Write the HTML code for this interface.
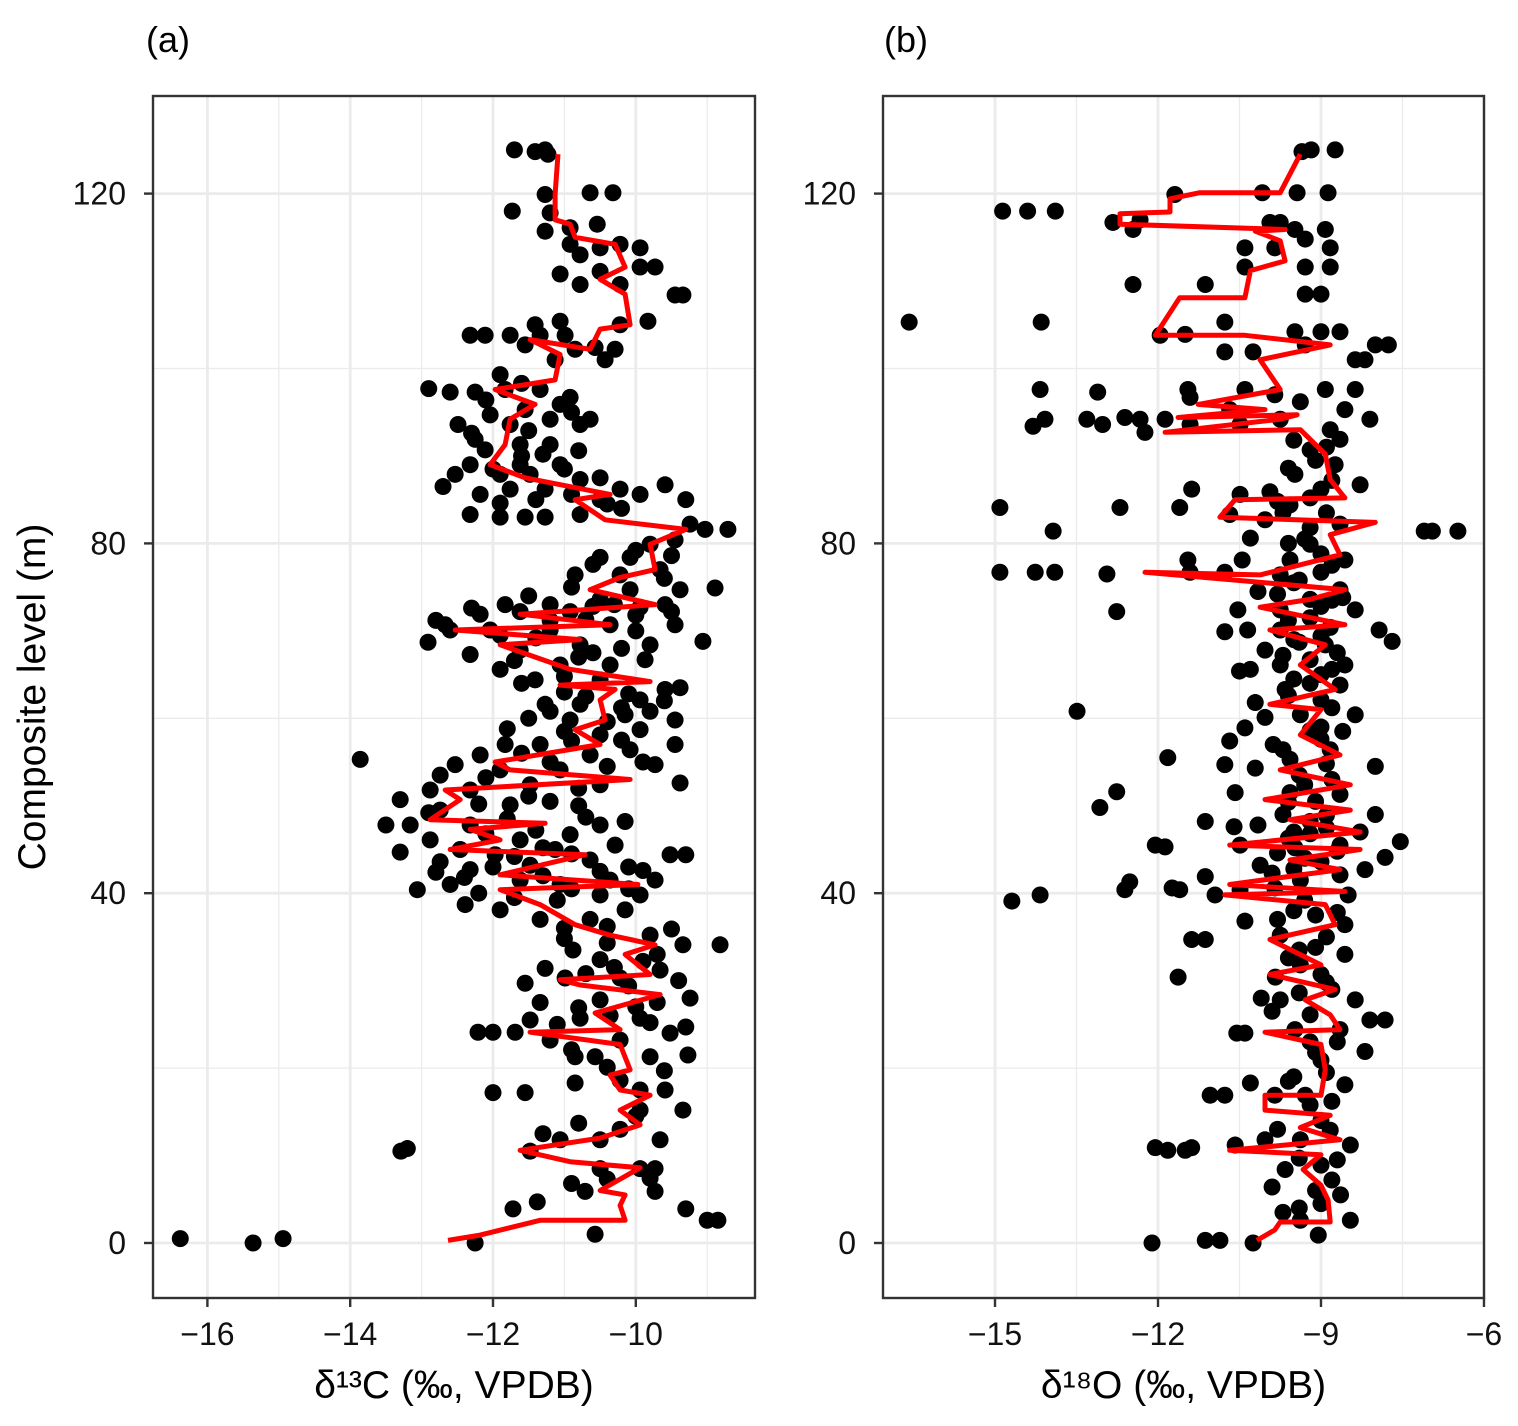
<!DOCTYPE html>
<html><head><meta charset="utf-8">
<style>
html,body{margin:0;padding:0;background:#fff;}
svg{display:block;font-family:"Liberation Sans",sans-serif;}
</style></head>
<body>
<svg id="chart" width="1518" height="1426" viewBox="0 0 1518 1426"></svg>
<script>
// ---------- DATA (value, depth) ----------
const aPoints = [[-16.38,0.5],[-15.36,0],[-14.94,0.5],[-12.25,0],[-10.57,1],[-9.0,2.6],[-8.85,2.6],[-9.3,3.9],[-11.72,3.9],[-11.38,4.7],[-10.71,5.9],[-9.73,5.9],[-9.73,8.5],[-10.5,8.5],[-9.94,8.5],[-13.29,10.5],[-13.2,10.8],[-11.48,10.5],[-11.06,11.8],[-10.5,11.8],[-9.66,11.8],[-10.22,13],[-9.34,15.2],[-9.94,15.2],[-12.0,17.2],[-11.55,17.2],[-9.94,17.5],[-9.59,17.5],[-10.85,18.3],[-10.22,18.6],[-10.85,21.3],[-10.57,21.3],[-9.8,21.3],[-9.27,21.5],[-12.21,24.1],[-12.0,24.1],[-11.69,24.1],[-11.2,23.2],[-10.22,23.2],[-9.52,24],[-11.48,25.5],[-10.78,25.7],[-9.94,25.7],[-10.36,26],[-9.24,28],[-11.34,27.5],[-10.5,27.8],[-11.55,29.7],[-10.99,30.3],[-10.22,30.3],[-9.66,31.2],[-11.27,31.4],[-10.5,32.4],[-9.34,34.1],[-8.82,34.1],[-10.88,33.5],[-9.8,35.2],[-11.34,37],[-10.64,37],[-10.15,38.1],[-11.9,38.1],[-12.39,38.7],[-13.06,40.4],[-12.6,41],[-11.62,41.5],[-11.06,41],[-10.36,41.5],[-9.73,41.5],[-9.94,39.8],[-10.5,39.8],[-12.32,42.7],[-11.48,43.2],[-12.74,43.6],[-11.97,44.4],[-10.64,43.8],[-9.52,44.4],[-9.3,44.4],[-13.3,44.7],[-12.46,45],[-11.13,45],[-10.29,45.5],[-12.88,46.1],[-11.62,46.1],[-10.92,46.7],[-13.5,47.8],[-13.16,47.8],[-12.32,47.8],[-10.5,47.8],[-10.15,48.2],[-12.74,49.5],[-11.76,50.1],[-11.2,50.5],[-13.3,50.7],[-12.88,51.8],[-12.32,51.8],[-11.48,52.4],[-10.5,52.4],[-9.38,52.6],[-12.74,53.5],[-11.9,54.1],[-11.06,54.1],[-9.73,54.7],[-13.86,55.3],[-12.53,54.7],[-12.18,55.8],[-10.64,55.8],[-10.08,56.4],[-11.83,57],[-11.34,57],[-9.45,57],[-10.5,58.1],[-9.94,58.7],[-10.92,59.8],[-9.45,59.8],[-10.15,60.4],[-11.27,61.6],[-10.78,61.6],[-9.94,62.1],[-9.59,63.3],[-9.38,63.5],[-11.41,64.4],[-10.5,64.4],[-11.9,65.6],[-11.06,66.1],[-10.36,66.1],[-9.87,66.7],[-12.32,67.3],[-11.62,67.8],[-10.78,68.4],[-9.8,68.4],[-9.06,68.8],[-12.91,68.7],[-12.6,70.1],[-12.04,70.1],[-11.2,70.1],[-10.36,70.7],[-9.45,70.7],[-12.67,70.7],[-12.18,71.9],[-11.62,72.2],[-10.92,72.2],[-9.94,72.7],[-9.59,73],[-11.83,73],[-11.2,73],[-10.5,73.6],[-9.38,74.7],[-8.89,74.9],[-10.08,74.7],[-10.85,76.4],[-10.22,76.4],[-9.66,77],[-10.5,78.4],[-10.08,78.4],[-9.8,79.9],[-9.45,80.4],[-9.03,81.6],[-8.71,81.6],[-9.24,82.2],[-10.78,83.3],[-11.9,83],[-11.55,83],[-11.27,83],[-12.32,83.3],[-10.5,85],[-9.94,85.6],[-9.3,85],[-10.22,86.2],[-12.18,85.6],[-11.76,86.2],[-11.27,86.2],[-9.59,86.7],[-10.78,87.3],[-12.53,87.9],[-11.9,87.9],[-11.48,87.9],[-10.5,87.5],[-12.32,89],[-11.62,89],[-11.06,89],[-12.11,90.7],[-11.62,91.3],[-11.2,91.3],[-12.25,91.9],[-12.49,93.6],[-11.76,93.6],[-10.78,93.6],[-11.2,94.2],[-10.64,94.2],[-12.04,94.7],[-11.55,95.3],[-11.06,95.9],[-12.6,97.3],[-12.25,97.3],[-11.83,97.6],[-11.34,97.6],[-10.92,96.7],[-11.9,99.3],[-11.13,101],[-10.43,101],[-10.85,102.2],[-10.29,102.2],[-10.57,102.4],[-11.55,102.7],[-12.32,103.8],[-12.11,103.8],[-11.76,103.8],[-11.34,103.8],[-10.99,103.8],[-11.41,105],[-11.06,105.4],[-9.83,105.4],[-10.22,105],[-9.45,108.4],[-9.34,108.4],[-10.22,109.6],[-10.78,109.6],[-11.06,110.8],[-10.5,111.1],[-9.94,111.6],[-9.73,111.6],[-10.78,113],[-10.5,113.8],[-10.22,114.2],[-9.94,113.8],[-10.92,114.2],[-11.27,115.7],[-10.92,116.1],[-10.54,116.5],[-11.2,117.8],[-11.73,118],[-11.27,119.9],[-10.64,120.1],[-10.32,120.1],[-11.7,125],[-11.41,124.8],[-11.27,125],[-11.23,124.5],
[-10.9,40.5],[-11.3,42],[-10.1,43],[-11.8,48.5],[-10.8,50],[-11.5,60],[-10.1,62.8],[-11.0,63],[-10.6,67.5],[-11.4,69.2],[-10.0,70],[-10.7,71.3],[-11.6,64],[-10.2,57.5],[-9.8,60.8],[-11.0,58.5],[-10.3,31.5],[-9.7,33],[-10.0,27],[-9.7,27.5],[-11.0,36],[-10.4,36.2],[-11.0,88.5],[-11.6,90],[-10.4,84.5],
[-12.4,41.8],[-12.0,43],[-11.7,44.2],[-11.3,45.2],[-10.9,44.5],[-10.5,42.5],[-10.1,40.5],[-9.9,42.6],[-11.1,39.2],[-11.7,39.5],[-12.2,40],[-12.8,42.4],[-12.1,46.8],[-11.4,47.2],[-10.7,48.7],[-12.9,49.2],[-12.2,50.2],[-11.5,51.1],[-10.8,52],[-12.1,53.2],[-11.2,55],[-10.4,54.5],[-9.9,55],[-11.6,56],[-10.9,57.4],[-10.4,59.6],[-11.8,58.8],[-11.2,60.8],[-10.7,62.5],[-10.2,61.2],[-9.6,62],[-11.0,64.8],[-11.7,66.6],[-10.8,67],[-10.2,68],[-11.9,69.5],[-11.2,71.2],[-10.6,72.8],[-10.0,71.8],[-9.5,72.2],[-12.3,72.6],[-12.8,71.2],[-11.5,74],[-10.9,75],[-10.3,73],[-9.6,76],[-10.6,77.6],[-10.0,79.2],[-9.5,78.6],[-11.9,84.6],[-11.4,85],[-10.9,85.6],[-10.2,84],[-12.7,86.5],[-12.0,88.5],[-11.3,90.2],[-10.8,90.6],[-12.3,92.6],[-11.5,92.9],[-10.9,95],[-12.1,96.4],[-11.6,98.3],[-12.9,97.7],[-10.7,30.8],[-10.1,29.4],[-9.9,32.2],[-10.4,34.3],[-11.0,34.8],[-9.4,30],[-9.5,35.9],[-10.8,26.9],[-11.1,25],[-9.8,25.2],[-9.3,24.7],[-10.9,22.1],[-10.4,20.1],[-9.6,19.7],[-10.0,14.5],[-10.8,13.7],[-11.3,12.5],[-9.8,7.4],[-10.4,7.3],[-10.9,6.8]];
const aLine = [[-12.63,0.3],[-12.18,0.9],[-11.34,2.6],[-10.15,2.6],[-10.22,4.3],[-10.15,5.5],[-10.5,6],[-9.94,8.6],[-10.92,9.3],[-11.62,10.6],[-10.5,12],[-9.94,13.5],[-10.22,15.2],[-9.8,16.9],[-10.22,17.5],[-10.36,19.2],[-10.08,19.8],[-10.22,22.7],[-11.48,24.1],[-10.22,24.4],[-10.57,26.3],[-9.66,28.4],[-10.78,29.5],[-11.06,30.1],[-9.8,30.7],[-10.15,33],[-9.73,34.1],[-10.36,35.2],[-10.85,36.4],[-11.34,38.7],[-11.9,40.4],[-9.97,41],[-11.9,42.1],[-10.71,44.4],[-12.6,45],[-11.9,46.1],[-12.32,47.3],[-11.27,48],[-12.88,48.4],[-12.46,50.7],[-12.67,51.8],[-10.08,53],[-11.76,54.1],[-11.97,55],[-10.5,57],[-10.85,58.7],[-10.43,59.8],[-10.5,62.1],[-10.29,63.3],[-11.06,63.8],[-9.8,64.2],[-10.92,65.6],[-11.9,68.4],[-10.78,69],[-12.53,70.1],[-10.36,70.7],[-11.62,71.9],[-9.73,73],[-10.64,74.7],[-10.22,76.1],[-9.73,77],[-9.8,79.9],[-9.3,81.6],[-10.43,82.7],[-10.85,85],[-10.36,85.6],[-11.55,87.5],[-12.04,89],[-11.83,91.3],[-11.76,94.2],[-11.41,95.9],[-11.97,97.6],[-11.13,98.7],[-11.06,101.6],[-11.48,103.3],[-10.64,102.2],[-10.5,104.5],[-10.08,105],[-10.15,108.5],[-10.5,110.2],[-10.15,111.6],[-10.29,114.2],[-10.85,115],[-10.92,116.5],[-11.13,117],[-11.13,119.9],[-11.09,124.5]];
const bPoints = [[-12.11,0],[-11.13,0.3],[-10.86,0.3],[-10.25,0],[-9.05,0.9],[-8.46,2.6],[-9.38,2.6],[-8.64,5.5],[-9.1,6],[-9.66,8.4],[-9.0,8.9],[-8.46,11.2],[-12.05,10.9],[-11.82,10.6],[-11.5,10.6],[-11.38,10.9],[-10.58,11.2],[-10.03,11.8],[-9.38,11.8],[-8.83,12.9],[-11.04,16.9],[-10.77,16.9],[-9.85,16.9],[-9.29,16.9],[-8.56,18.1],[-9.0,20.9],[-8.19,21.9],[-10.55,24],[-10.4,24],[-9.48,24.4],[-8.65,24.4],[-7.82,25.5],[-8.1,25.5],[-9.2,26.1],[-8.37,27.8],[-9.75,27.8],[-11.63,30.4],[-9.84,30.4],[-9.0,30.7],[-9.38,31.8],[-8.56,33],[-11.38,34.7],[-11.13,34.7],[-9.75,35.2],[-8.56,36.4],[-9.1,37.5],[-8.5,39.8],[-14.69,39.1],[-14.17,39.8],[-12.61,40.4],[-12.52,41.3],[-11.74,40.6],[-11.6,40.4],[-10.95,39.8],[-10.49,40.4],[-9.85,40.6],[-9.38,41.5],[-8.65,42.1],[-8.19,42.7],[-11.13,41.9],[-10.12,43.2],[-9.0,43.6],[-7.82,44.1],[-12.05,45.5],[-11.87,45.3],[-10.49,45.5],[-9.48,45.2],[-8.65,45.5],[-7.54,45.9],[-8.28,47],[-11.13,48.2],[-10.16,47.8],[-9.2,48.2],[-8.0,49],[-13.07,49.8],[-12.76,51.6],[-10.58,51.5],[-9.57,51.5],[-8.65,51.3],[-11.82,55.5],[-10.77,54.7],[-10.21,54.3],[-9.57,55.3],[-8.83,56.4],[-8.0,54.5],[-10.68,57.4],[-9.88,57],[-9.0,57.6],[-13.49,60.8],[-10.03,60.1],[-9.38,60.4],[-8.37,60.4],[-10.21,61.8],[-9.0,62.1],[-9.66,63.3],[-8.65,63.8],[-10.3,65.6],[-9.75,66.1],[-9.2,66.7],[-8.56,66.1],[-10.03,67.8],[-8.92,68.4],[-7.69,68.8],[-10.77,69.9],[-10.35,70.1],[-9.75,70.1],[-8.83,70.4],[-7.93,70.1],[-12.76,72.2],[-10.53,72.4],[-9.75,72.4],[-8.37,72.4],[-9.2,73.6],[-10.16,74.5],[-8.65,74.7],[-14.91,76.7],[-14.26,76.7],[-13.9,76.7],[-12.94,76.5],[-11.41,76.7],[-10.77,76.7],[-9.75,76.4],[-9.0,76.7],[-11.45,78.1],[-10.45,78.1],[-9.57,78.1],[-8.56,78.1],[-9.2,79.9],[-13.93,81.4],[-7.1,81.4],[-6.95,81.4],[-6.48,81.4],[-8.65,82.2],[-10.03,82.7],[-10.68,83.3],[-14.91,84.1],[-12.7,84.1],[-11.6,84.1],[-9.57,84.4],[-11.38,86.2],[-10.49,85.6],[-9.94,85.9],[-9.0,86.2],[-8.28,86.7],[-9.48,87.9],[-8.74,89],[-9.2,90.7],[-8.65,91.9],[-14.3,93.4],[-14.08,94.2],[-13.31,94.2],[-13.02,93.6],[-12.61,94.4],[-12.33,94.2],[-12.24,92.7],[-11.87,94.2],[-11.41,93.6],[-10.49,93.6],[-9.75,94.2],[-8.83,93],[-8.1,94.2],[-14.17,97.6],[-13.11,97.3],[-11.45,97.6],[-11.41,96.7],[-10.4,97.6],[-9.85,97],[-8.92,97.6],[-8.37,97.6],[-9.38,96.2],[-10.68,95.3],[-8.56,95.3],[-8.37,101],[-8.19,101],[-8.0,102.7],[-7.76,102.7],[-11.96,103.8],[-11.5,103.9],[-10.77,101.9],[-10.25,101.9],[-9.48,104.2],[-9.0,104.2],[-8.65,104.2],[-9.29,102.7],[-16.58,105.3],[-14.15,105.3],[-10.77,105.3],[-12.46,109.6],[-11.13,109.6],[-10.4,111.6],[-9.29,108.5],[-9.0,108.5],[-9.29,111.6],[-8.83,111.6],[-10.4,113.8],[-9.85,113.8],[-9.29,114.8],[-8.83,113.8],[-14.86,118],[-14.4,118],[-13.89,118],[-12.83,116.7],[-12.46,115.9],[-12.33,117],[-9.94,116.7],[-9.75,116.7],[-9.48,115.9],[-8.92,115.9],[-11.69,119.9],[-10.08,120.1],[-9.44,120.1],[-8.87,120.1],[-9.35,124.8],[-9.18,125],[-8.74,125],
[-9.5,47],[-8.9,47.5],[-9.3,44],[-8.7,44.8],[-9.7,49],[-9.1,50.5],[-8.8,53],[-9.4,53.5],[-9.0,59],[-8.6,58.5],[-9.5,64.5],[-9.0,65],[-8.7,67.5],[-9.5,69],[-9.2,71.5],[-8.8,73.5],[-9.5,75.5],[-8.8,77.5],[-9.3,80.5],[-8.9,83.5],[-9.5,38],[-8.9,35],[-9.4,33.5],[-8.8,29],[-9.2,23],[-8.9,19.5],[-9.6,18.5],[-9.0,14],[-8.7,9.5],[-9.4,4],
[-9.7,3.5],[-9.0,4.5],[-8.8,7.2],[-9.4,9.7],[-9.8,13],[-9.2,15.8],[-8.8,16.2],[-9.5,19],[-9.1,21.8],[-8.7,23],[-9.9,26.5],[-9.4,28.6],[-8.9,29.8],[-9.6,32.6],[-9.1,33.8],[-8.7,37.8],[-9.8,37],[-9.3,39.2],[-9.9,42.3],[-9.5,42.8],[-9.8,44.6],[-9.6,46.3],[-9.2,46.8],[-8.9,48.9],[-9.6,50.4],[-9.3,52.4],[-8.9,54.8],[-9.7,56.4],[-9.2,58.6],[-8.8,61.2],[-9.6,62.6],[-9.2,64],[-8.8,65.6],[-9.7,67.2],[-9.4,68.7],[-9.0,69.4],[-9.6,71.2],[-9.0,72.8],[-8.6,73.8],[-9.8,74.2],[-9.4,75.8],[-9.0,78.8],[-9.6,80],[-9.2,81.8],[-9.7,83.5],[-9.2,85.2],[-8.8,87.2],[-9.6,88.6],[-9.1,89.5],[-8.9,91],[-9.5,91.8],[-9.8,84.8],[-10.3,80.6],[-10.5,65.4],[-10.4,58.9],[-10.6,47.6],[-10.4,36.8],[-10.1,28],[-10.3,18.3],[-9.9,6.4]];
const bLine = [[-10.18,0.3],[-9.85,1.5],[-9.75,2.4],[-8.83,2.4],[-8.87,4.9],[-9.0,6.6],[-9.33,8.4],[-9.0,10.1],[-10.68,10.6],[-8.65,11.8],[-9.38,13.2],[-8.83,14.6],[-10.03,15.2],[-10.03,16.9],[-9.0,16.9],[-8.92,19.8],[-9.0,22.7],[-10.03,24.1],[-8.65,24.4],[-8.83,26.1],[-9.29,27.8],[-8.74,29],[-9.94,30.7],[-9.0,31.8],[-9.94,34.7],[-8.74,36.4],[-8.92,38.7],[-10.77,39.8],[-8.56,40.2],[-10.68,41],[-8.65,42.7],[-9.57,43.8],[-8.28,45],[-10.68,45.5],[-8.28,47],[-9.57,48.4],[-8.46,49.5],[-10.03,50.7],[-8.46,52.4],[-9.75,54.1],[-8.65,55.8],[-9.38,58.1],[-9.0,61],[-9.94,61.6],[-8.74,63.3],[-9.38,66.1],[-8.92,68.4],[-9.94,70.1],[-8.56,70.7],[-10.12,72.7],[-9.2,73.6],[-8.56,74.7],[-12.24,76.7],[-10.12,76.4],[-8.65,78.7],[-8.83,81],[-8.0,82.4],[-10.86,83],[-10.58,85],[-8.56,85.2],[-8.83,87.3],[-8.92,90.2],[-9.38,93],[-11.87,92.7],[-9.75,94.2],[-9.44,94.7],[-11.63,94.4],[-10.03,95.3],[-11.26,95.9],[-9.75,97.6],[-10.12,101],[-8.83,102.7],[-10.4,103.8],[-12.05,103.8],[-11.6,108.1],[-10.4,108.1],[-10.3,111.2],[-9.66,112.3],[-9.75,114.6],[-10.21,115.7],[-9.66,115.9],[-12.7,116.5],[-12.7,117.7],[-11.78,117.9],[-11.78,119.4],[-11.23,120.1],[-9.75,120.1],[-9.38,124.5]];
const aXTicks = [-16,-14,-12,-10];
const aXMinor = [-15,-13,-11,-9];
const bXTicks = [-15,-12,-9,-6];
const bXMinor = [-13.5,-10.5,-7.5];
const yTicks = [0,40,80,120];
const yMinor = [20,60,100];

// ---------- drawing ----------
const NS = "http://www.w3.org/2000/svg";
const svg = document.getElementById("chart");
function mk(tag, attrs, parent){
  const e = document.createElementNS(NS, tag);
  for (const k in attrs) e.setAttribute(k, attrs[k]);
  (parent||svg).appendChild(e);
  return e;
}
const Y0=1243, YPX=8.745;
function ys(d){ return Y0 - d*YPX; }

function panel(cfg){
  const g = mk("g",{});
  
  
  const xs = v => cfg.x0 + (v - cfg.v0)*cfg.k;
  const L=cfg.left, R=cfg.right, T=96, B=1298;
  cfg.minor.forEach(v=>{ const l=mk("line",{x1:xs(v),x2:xs(v),y1:T,y2:B,stroke:"#ebebeb","stroke-width":1.3},g);
      });
  yMinor.forEach(d=>{ const l=mk("line",{x1:L,x2:R,y1:ys(d),y2:ys(d),stroke:"#ebebeb","stroke-width":1.3},g);
      });
  cfg.ticks.forEach(v=>{ const l=mk("line",{x1:xs(v),x2:xs(v),y1:T,y2:B,stroke:"#ebebeb","stroke-width":2.8},g);
      });
  yTicks.forEach(d=>{ const l=mk("line",{x1:L,x2:R,y1:ys(d),y2:ys(d),stroke:"#ebebeb","stroke-width":2.8},g);
      });
  cfg.points.forEach(p=>{
    const c = mk("circle",{cx:xs(p[0]),cy:ys(p[1]),r:8.5,fill:"#000"},g);
    
    
  });
  const pl = mk("polyline",{points:cfg.line.map(p=>xs(p[0]).toFixed(1)+","+ys(p[1]).toFixed(1)).join(" "),
    fill:"none",stroke:"#ff0000","stroke-width":5,"stroke-linejoin":"round"},g);
  
  
  const fr = mk("rect",{x:L,y:T,width:R-L,height:B-T,fill:"none",stroke:"#333","stroke-width":2.4},g);
  
  
  cfg.ticks.forEach(v=>{
    const t=mk("line",{x1:xs(v),x2:xs(v),y1:B,y2:B+9,stroke:"#333","stroke-width":2.4},g);
     
    const tx=mk("text",{x:xs(v),y:B+47,"text-anchor":"middle","font-size":32,fill:"#111"},g);
    tx.textContent = (v<0?"\u2212":"")+Math.abs(v);
     
  });
  yTicks.forEach(d=>{
    const t=mk("line",{x1:L-9,x2:L,y1:ys(d),y2:ys(d),stroke:"#333","stroke-width":2.4},g);
     
    const tx=mk("text",{x:L-27,y:ys(d)+11,"text-anchor":"end","font-size":32,fill:"#111"},g);
    tx.textContent = d;
     
  });
  const xt=mk("text",{x:(L+R)/2,y:1398,"text-anchor":"middle","font-size":39,fill:"#000"},g);
  xt.textContent = cfg.xtitle;
   
  const pt=mk("text",{x:cfg.labelX,y:52,"font-size":36,fill:"#000"},g);
  pt.textContent = cfg.label;
   
}
panel({name:"panel-a-d13c",left:153,right:755,x0:493,v0:-12,k:71.4,ticks:aXTicks,minor:aXMinor,
  points:aPoints,line:aLine,xtitle:"\u03B4\u00B9\u00B3C (\u2030, VPDB)",label:"(a)",labelX:146});
panel({name:"panel-b-d18o",left:883,right:1484,x0:1158,v0:-12,k:54.33,ticks:bXTicks,minor:bXMinor,
  points:bPoints,line:bLine,xtitle:"\u03B4\u00B9\u2078O (\u2030, VPDB)",label:"(b)",labelX:884});
const yt = mk("text",{x:0,y:0,"text-anchor":"middle","font-size":39,fill:"#000",transform:"translate(45,697) rotate(-90)"});
yt.textContent = "Composite level (m)";


</script>
</body></html>
